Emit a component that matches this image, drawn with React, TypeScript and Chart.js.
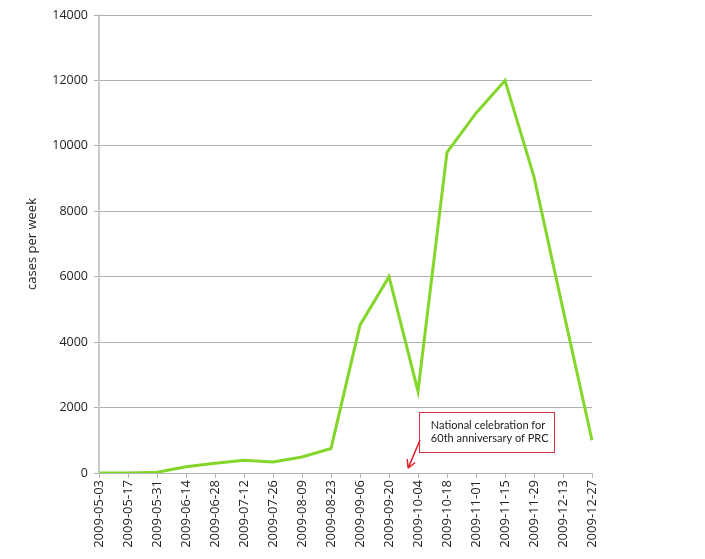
import React, { useEffect, useRef } from "react";
import { Chart, registerables } from "chart.js";

Chart.register(...registerables);

const categories = [
  "2009-05-03", "2009-05-17", "2009-05-31", "2009-06-14", "2009-06-28", "2009-07-12",
  "2009-07-26", "2009-08-09", "2009-08-23", "2009-09-06", "2009-09-20", "2009-10-04",
  "2009-10-18", "2009-11-01", "2009-11-15", "2009-11-29", "2009-12-13", "2009-12-27",
];
const casesPerWeek = [
  0, 0, 20, 190, 300, 390, 340, 490, 750, 4520, 6000, 2500,
  9800, 11000, 12000, 9050, 5000, 1000,
];
const yTicks = [0, 2000, 4000, 6000, 8000, 10000, 12000, 14000];
const annotationLines = ["National celebration for", "60th anniversary of PRC"];
// annotation anchors in data space: [category index, value]
const boxTopLeft = [11.03, 1870];
const boxBottomRight = [15.7, 640];
const arrowFrom = [11.07, 1010];
const arrowTo = [10.66, 150];

const FONT = "'Open Sans', 'Noto Sans', sans-serif";

const annotationPlugin = {
  id: "prcAnnotation",
  afterDatasetsDraw(chart: any) {
    const { ctx, scales } = chart;
    const x = scales.x, y = scales.y;
    const px = (i: number) => x.getPixelForDecimal(i / (categories.length - 1));
    const x1 = px(boxTopLeft[0]), y1 = y.getPixelForValue(boxTopLeft[1]);
    const x2 = px(boxBottomRight[0]), y2 = y.getPixelForValue(boxBottomRight[1]);
    ctx.save();
    ctx.fillStyle = "#ffffff";
    ctx.fillRect(x1, y1, x2 - x1, y2 - y1);
    ctx.strokeStyle = "#d9303e";
    ctx.lineWidth = 1;
    ctx.strokeRect(Math.round(x1) + 0.5, Math.round(y1) + 0.5, Math.round(x2 - x1), Math.round(y2 - y1));
    ctx.fillStyle = "#222222";
    ctx.font = `11px Lato, ${FONT}`;
    ctx.textAlign = "left";
    ctx.textBaseline = "middle";
    const cy = (y1 + y2) / 2;
    ctx.fillText(annotationLines[0], x1 + 12, cy - 6.5);
    ctx.fillText(annotationLines[1], x1 + 12, cy + 7);
    // arrow
    const ax1 = px(arrowFrom[0]), ay1 = y.getPixelForValue(arrowFrom[1]);
    const ax2 = px(arrowTo[0]), ay2 = y.getPixelForValue(arrowTo[1]);
    ctx.strokeStyle = "#e0202a";
    ctx.lineWidth = 1.5;
    ctx.beginPath();
    ctx.moveTo(ax1, ay1);
    ctx.lineTo(ax2, ay2);
    const ang = Math.atan2(ay2 - ay1, ax2 - ax1);
    const hl = 9;
    ctx.moveTo(ax2, ay2);
    ctx.lineTo(ax2 - hl * Math.cos(ang - 0.5), ay2 - hl * Math.sin(ang - 0.5));
    ctx.moveTo(ax2, ay2);
    ctx.lineTo(ax2 - hl * Math.cos(ang + 0.5), ay2 - hl * Math.sin(ang + 0.5));
    ctx.stroke();
    ctx.restore();
  },
};

export default function App() {
  const ref = useRef<HTMLCanvasElement>(null);
  useEffect(() => {
    if (!ref.current) return;
    const chart = new Chart(ref.current, {
      type: "line",
      data: {
        labels: categories,
        datasets: [
          {
            data: casesPerWeek,
            borderColor: "#85d62b",
            borderWidth: 3,
            pointRadius: 0,
            tension: 0,
            fill: false,
          },
        ],
      },
      options: {
        animation: false,
        responsive: true,
        maintainAspectRatio: false,
        layout: { padding: { top: 15, right: 113, left: 24, bottom: 0 } },
        plugins: { legend: { display: false }, tooltip: { enabled: false } },
        scales: {
          x: {
            type: "category",
            offset: false,
            grid: { display: true, drawOnChartArea: false, drawTicks: true, tickLength: 5, color: "#b0b8b8" },
            border: { display: true, color: "#b0b8b8", width: 1 },
            ticks: {
              autoSkip: false,
              minRotation: 90,
              maxRotation: 90,
              color: "#222222",
              font: { family: FONT, size: 13 },
              padding: 2,
            },
            afterFit: (s: any) => { s.height = 86; },
          },
          y: {
            min: 0,
            max: 14000,
            afterBuildTicks: (s: any) => { s.ticks = yTicks.map((v) => ({ value: v })); },
            grid: { color: "#a6b2b2", lineWidth: 1, drawTicks: true, tickLength: 5 },
            border: { display: true, color: "#c8cccc", width: 2 },
            ticks: {
              color: "#222222",
              font: { family: FONT, size: 12.5 },
              padding: 6,
              callback: (v: any) => String(v),
            },
            title: { display: true, text: "cases per week", color: "#222222", font: { family: FONT, size: 13 }, padding: 0 },
            afterFit: (s: any) => { s.width = 75; },
          },
        },
      },
      plugins: [annotationPlugin],
    } as any);
    return () => chart.destroy();
  }, []);
  return (
    <div style={{ position: "fixed", left: 0, top: 0, width: 705, height: 559, background: "#fff" }}>
      <canvas ref={ref} />
    </div>
  );
}
